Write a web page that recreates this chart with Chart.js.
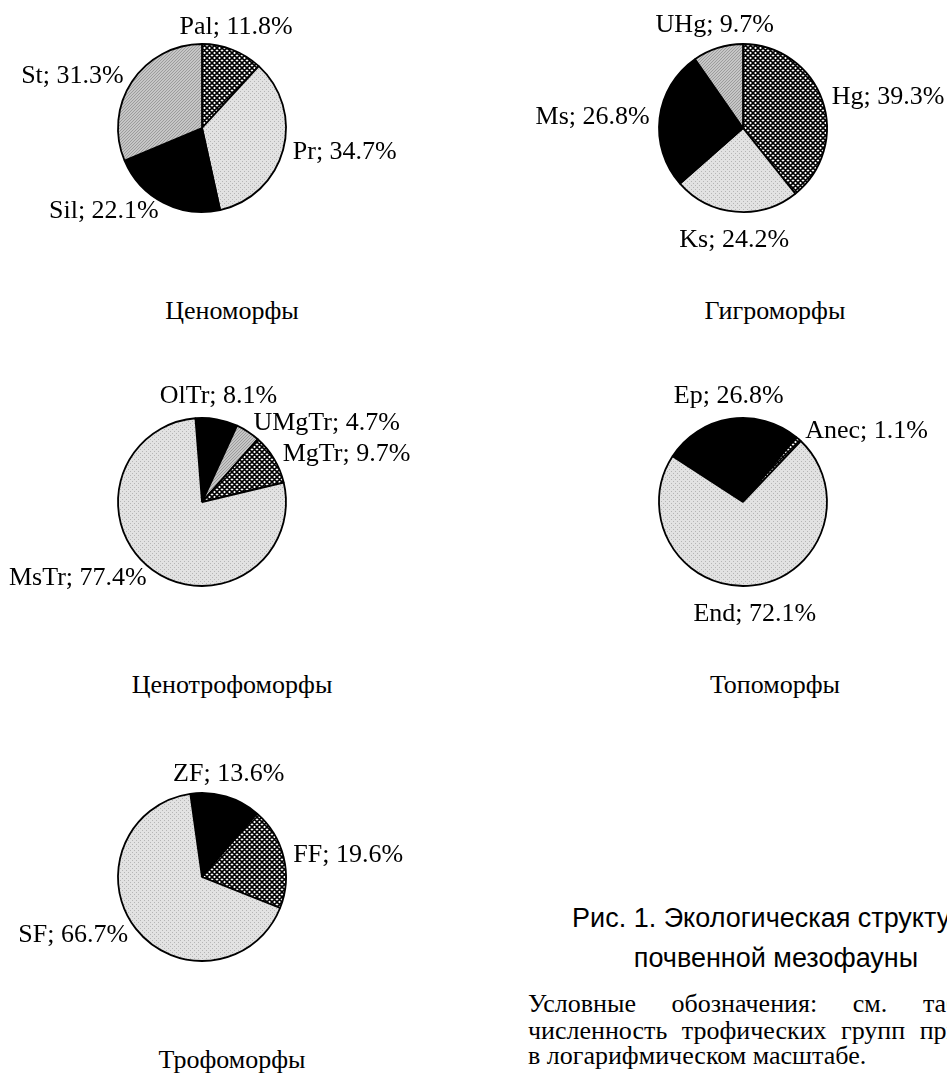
<!DOCTYPE html>
<html lang="ru">
<head>
<meta charset="utf-8">
<script src="https://cdn.jsdelivr.net/npm/chart.js@4.4.1/dist/chart.umd.min.js"></script>
<style>
  html, body { margin: 0; padding: 0; background: #fff; }
  body { width: 947px; height: 1073px; position: relative; overflow: hidden; font-family: "Liberation Serif", "Times New Roman", serif; color: #000; }
  canvas { position: absolute; }
  .title { position: absolute; width: 300px; text-align: center; font-size: 26px; line-height: 26px; white-space: nowrap; }
  .caption { position: absolute; left: 476px; top: 898px; width: 600px; text-align: center; font-family: "Liberation Sans", Arial, sans-serif; font-size: 27px; line-height: 40px; white-space: nowrap; }
  .note { position: absolute; left: 528px; width: 506px; font-size: 26px; line-height: 26px; white-space: nowrap; }
  .note.just { text-align: justify; text-align-last: justify; }
</style>
</head>
<body>

<script>
// values, percent of individuals
const cenoLabels = ['Pal', 'Pr', 'Sil', 'St'];
const cenoValues = [11.8, 34.7, 22.1, 31.3];

const hygroLabels = ['Hg', 'Ks', 'Ms', 'UHg'];
const hygroValues = [39.3, 24.2, 26.8, 9.7];

const cenotrophLabels = ['OlTr', 'UMgTr', 'MgTr', 'MsTr'];
const cenotrophValues = [8.1, 4.7, 9.7, 77.4];

const topoLabels = ['Ep', 'Anec', 'End'];
const topoValues = [26.8, 1.1, 72.1];

const trophLabels = ['ZF', 'FF', 'SF'];
const trophValues = [13.6, 19.6, 66.7];

const panelTitles = ['Ценоморфы', 'Гигроморфы', 'Ценотрофоморфы', 'Топоморфы', 'Трофоморфы'];

// fill patterns, like the old Excel b/w fills
function makePattern(kind) {
  const c = document.createElement('canvas');
  const ctx = c.getContext('2d');
  if (kind === 'hatch') {
    const T = 5;
    c.width = c.height = T;
    ctx.fillStyle = '#fff';
    ctx.fillRect(0, 0, T, T);
    ctx.strokeStyle = '#000';
    ctx.lineWidth = 1.6;
    ctx.beginPath();
    for (const o of [-T, 0, T]) {
      ctx.moveTo(o, 0); ctx.lineTo(o + T, T);
      ctx.moveTo(o, T); ctx.lineTo(o + T, 0);
    }
    ctx.stroke();
  } else if (kind === 'light') {
    c.width = c.height = 4;
    ctx.fillStyle = '#e2e2e2';
    ctx.fillRect(0, 0, 4, 4);
    ctx.fillStyle = '#b5b5b5';
    ctx.fillRect(0, 0, 1, 1);
    ctx.fillRect(2, 2, 1, 1);
  } else if (kind === 'mid') {
    c.width = c.height = 3;
    ctx.fillStyle = '#c6c6c6';
    ctx.fillRect(0, 0, 3, 3);
    ctx.fillStyle = '#9c9c9c';
    for (let i = 0; i < 3; i++) ctx.fillRect(i, 2 - i, 1, 1);
  } else {
    return '#000';
  }
  return ctx.createPattern(c, 'repeat');
}

const fills = {
  hatch: makePattern('hatch'),
  light: makePattern('light'),
  mid: makePattern('mid'),
  black: '#000'
};

// "Name; 12.3%" next to each slice, placed along the slice's middle angle
const sliceLabels = {
  id: 'sliceLabels',
  afterDatasetsDraw(chart) {
    const ctx = chart.ctx;
    const meta = chart.getDatasetMeta(0);
    const values = chart.data.datasets[0].data;
    ctx.save();
    ctx.font = '26px "Liberation Serif", "Times New Roman", serif';
    ctx.fillStyle = '#000';
    meta.data.forEach((arc, i) => {
      const p = arc.getProps(['x', 'y', 'startAngle', 'endAngle', 'outerRadius'], true);
      const mid = (p.startAngle + p.endAngle) / 2;
      const dx = Math.cos(mid), dy = Math.sin(mid);
      ctx.textAlign = dx > 0.4 ? 'left' : (dx < -0.4 ? 'right' : 'center');
      ctx.textBaseline = dy < -0.9 ? 'bottom' : (dy > 0.9 ? 'top' : 'middle');
      const r = p.outerRadius + (dy > 0.9 ? 16 : 10);
      ctx.fillText(chart.data.labels[i] + '; ' + values[i].toFixed(1) + '%', p.x + dx * r, p.y + dy * r);
    });
    ctx.restore();
  }
};

const panels = [
  { labels: cenoLabels, values: cenoValues, fill: ['hatch', 'light', 'black', 'mid'], rotation: 0, cx: 202, cy: 128, titleX: 232 },
  { labels: hygroLabels, values: hygroValues, fill: ['hatch', 'light', 'black', 'mid'], rotation: 0, cx: 743, cy: 128, titleX: 775 },
  { labels: cenotrophLabels, values: cenotrophValues, fill: ['black', 'mid', 'hatch', 'light'], rotation: -4.5, cx: 202, cy: 502, titleX: 232 },
  { labels: topoLabels, values: topoValues, fill: ['black', 'hatch', 'light'], rotation: -57, cx: 743, cy: 502, titleX: 775 },
  { labels: trophLabels, values: trophValues, fill: ['black', 'hatch', 'light'], rotation: -8, cx: 202, cy: 877, titleX: 232 }
];

const BOX_W = 440, BOX_H = 270;

panels.forEach((panel, k) => {
  const canvas = document.createElement('canvas');
  canvas.width = BOX_W;
  canvas.height = BOX_H;
  canvas.style.left = (panel.cx - BOX_W / 2) + 'px';
  canvas.style.top = (panel.cy - BOX_H / 2) + 'px';
  document.body.appendChild(canvas);

  new Chart(canvas, {
    type: 'pie',
    plugins: [sliceLabels],
    data: {
      labels: panel.labels,
      datasets: [{
        data: panel.values,
        backgroundColor: panel.fill.map(f => fills[f]),
        borderColor: '#000',
        borderWidth: 1.8,
        radius: 84
      }]
    },
    options: {
      responsive: false,
      animation: false,
      events: [],
      rotation: panel.rotation,
      layout: { padding: 0 },
      plugins: {
        legend: { display: false },
        tooltip: { enabled: false }
      }
    }
  });

  const t = document.createElement('div');
  t.className = 'title';
  t.textContent = panelTitles[k];
  t.style.left = (panel.titleX - 150) + 'px';
  t.style.top = (panel.cy + 192 - 22) + 'px';
  document.body.appendChild(t);
});
</script>

<div class="caption">Рис. 1. Экологическая структура<br>почвенной мезофауны</div>
<div class="note just" style="top:991px;">Условные обозначения: см. табл. 1;</div>
<div class="note just" style="top:1018px;">численность трофических групп приведена</div>
<div class="note" style="top:1043px;">в логарифмическом масштабе.</div>

</body>
</html>
